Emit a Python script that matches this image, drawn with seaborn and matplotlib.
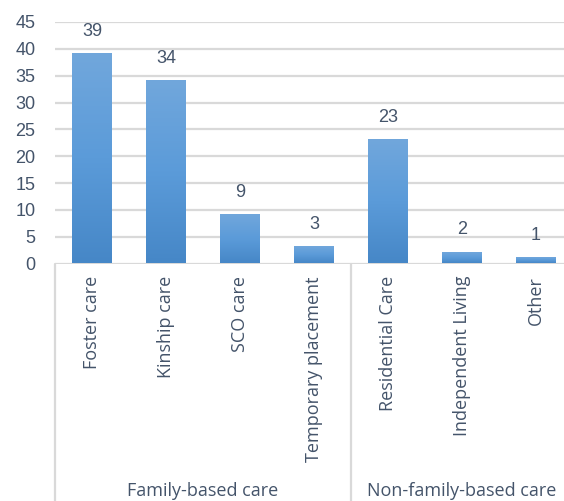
import numpy as np
import pandas as pd
import matplotlib
matplotlib.use("Agg")
import matplotlib.pyplot as plt
import seaborn as sns
from matplotlib.colors import LinearSegmentedColormap
from matplotlib.transforms import blended_transform_factory

categories = ["Foster care", "Kinship care", "SCO care", "Temporary placement",
              "Residential Care", "Independent Living", "Other"]
values = [39, 34, 9, 3, 23, 2, 1]
groups = ["Family-based care"] * 4 + ["Non-family-based care"] * 3
y_ticks = [0, 5, 10, 15, 20, 25, 30, 35, 40, 45]

sns.set_theme(style="white")
plt.rcParams['font.family'] = ['Liberation Sans', 'DejaVu Sans']

TEXT = "#44546A"
GRID = "#D9D9D9"
CAT_FONT = ['Open Sans', 'DejaVu Sans']

W, H = 564, 501
fig = plt.figure(figsize=(W / 100, H / 100), dpi=100)
left, right, top, bottom = 55, 573, 22, 263.5
ax = fig.add_axes([left / W, (H - bottom) / H, (right - left) / W, (bottom - top) / H])

df = pd.DataFrame({"category": categories, "value": values})
sns.barplot(data=df, x="category", y="value", width=0.54, color="#5B9BD5",
            ax=ax, zorder=2)

ax.set_xlabel("")
ax.set_ylabel("")
for s in ax.spines.values():
    s.set_visible(False)
ax.yaxis.grid(True, color=GRID, lw=1.6, zorder=0)
ax.set_axisbelow(True)
ax.set_yticks(y_ticks)
ax.tick_params(axis="y", length=0, pad=14, labelsize=13, labelcolor=TEXT)
ax.tick_params(axis="x", length=0, pad=9, labelsize=13, labelcolor=TEXT)
for t in ax.get_xticklabels():
    t.set_rotation(90)
    t.set_va("top")
    t.set_ha("center")
    t.set_family(CAT_FONT)

# gradient fill for each bar
cmap = LinearSegmentedColormap.from_list("g", ["#4687C7", "#5B9BD9", "#71A7DC"])
grad = np.linspace(0, 1, 256).reshape(-1, 1)
for p in ax.patches:
    x0, y0 = p.get_x(), p.get_y()
    w, h = p.get_width(), p.get_height()
    p.set_facecolor("none")
    p.set_edgecolor("none")
    ax.imshow(grad, cmap=cmap, aspect="auto", origin="lower",
              extent=(x0, x0 + w, y0, y0 + h), zorder=3)
    ax.annotate(f"{int(h)}", (x0 + w / 2, y0 + h), xytext=(0, 16.5),
                textcoords="offset points", ha="center", va="center",
                fontsize=13, color=TEXT)
ax.set_xlim(-0.5, len(categories) - 0.5)
ax.set_ylim(0, 45)

# multi-level category axis
trans = blended_transform_factory(ax.transData, ax.transAxes)
bounds = [-0.5]
for i in range(1, len(groups)):
    if groups[i] != groups[i - 1]:
        bounds.append(i - 0.5)
for b in bounds:
    ax.plot([b, b], [0, -1.2], transform=trans, color=GRID, lw=1.6,
            clip_on=False, zorder=1)
group_names = list(dict.fromkeys(groups))
for g in group_names:
    idx = [i for i, gg in enumerate(groups) if gg == g]
    xc = np.mean(idx)
    ax.text(xc, (H - 490.5 - (H - bottom)) / (bottom - top), g, transform=trans,
            ha="center", va="center", fontsize=13, color=TEXT, family=CAT_FONT)

fig.savefig("out.png", dpi=100)
